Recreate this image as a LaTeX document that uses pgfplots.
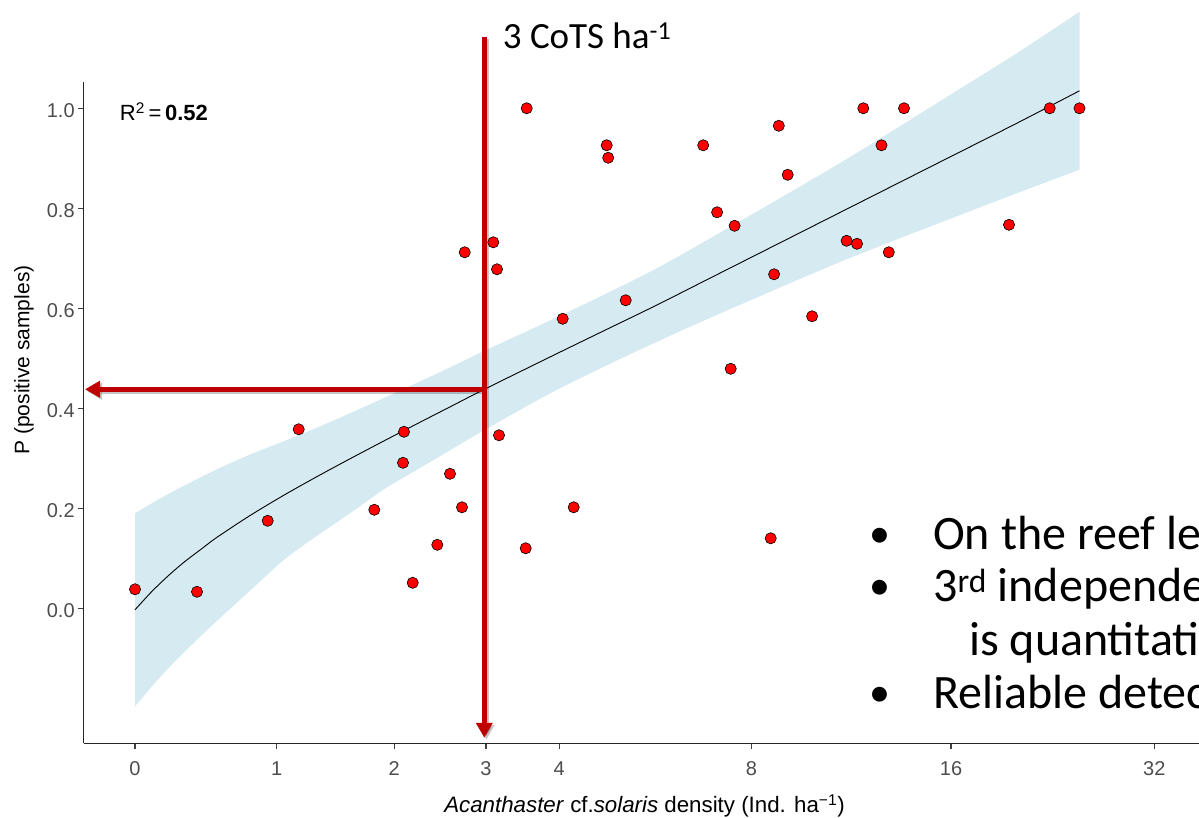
\documentclass[border=0pt]{standalone}
\usepackage{fontspec}
\setmainfont{Liberation Sans}
\newfontfamily\calibri{Carlito}
\usepackage{pgfplots}
\usepackage{pgfplotstable}
\pgfplotsset{compat=1.18}
\usepgfplotslibrary{fillbetween}
\usetikzlibrary{arrows.meta}
\definecolor{bandblue}{RGB}{214,234,241}
\definecolor{arrowred}{RGB}{192,0,0}
\definecolor{tickgray}{RGB}{77,77,77}

\pgfplotstableread{
x y
135 0.038
197 0.033
267.7 0.175
298.7 0.358
374.3 0.197
403 0.291
404 0.353
412.7 0.051
437.3 0.127
450 0.269
462 0.202
464.7 0.712
493.3 0.732
497 0.678
499 0.346
525.7 0.12
526.7 1.0
562.7 0.579
573.7 0.202
606.7 0.926
608.2 0.901
625.7 0.616
703.2 0.926
717.1 0.792
730.7 0.479
734.6 0.765
770.7 0.14
774.1 0.668
778.8 0.965
787.7 0.867
812.1 0.584
846.6 0.735
857 0.729
863.3 1.0
881.5 0.926
888.8 0.712
904 1.0
1009 0.767
1049.7 1.0
1079.5 1.0
}\ptsdata

\pgfplotstableread{
x y
135 -0.003
150 0.0298
160 0.0496
170 0.0682
184 0.0922
200 0.1165
217 0.1420
250 0.1855
284 0.2263
317 0.2634
350 0.2990
384 0.3348
417 0.3690
450 0.4028
484 0.4376
550 0.5026
604 0.5552
655 0.6047
706 0.6562
784 0.7350
840 0.7916
900 0.8522
950 0.9027
1016.7 0.9700
1079.5 1.035
}\fitdata

\pgfplotstableread{
x y
135 0.190
160 0.2196
184 0.2452
217 0.278
250 0.3075
284 0.3343
317 0.3614
350 0.390
384 0.4208
417 0.451
450 0.4818
484 0.5146
550 0.5756
604 0.6272
655 0.6782
706 0.7352
784 0.825
840 0.8906
900 0.9642
950 1.0267
1016.7 1.110
1079.5 1.193
}\bandhidata

\pgfplotstableread{
x y
135 -0.196
160 -0.138
184 -0.088
217 -0.025
250 0.035
284 0.097
317 0.145
350 0.19
384 0.238
417 0.277
450 0.316
484 0.356
550 0.4296
604 0.4832
655 0.5312
706 0.5772
784 0.645
840 0.6926
900 0.7402
950 0.7787
1016.7 0.830
1079.5 0.877
}\bandlodata

\begin{document}
\begin{tikzpicture}[x=1pt,y=1pt]
\begin{axis}[
  at={(83.7pt,74.7pt)}, anchor=south west,
  scale only axis, width=1115.3pt, height=661pt,
  xmin=83.7, xmax=1199, ymin=-0.27, ymax=1.052,
  axis x line=bottom, axis y line=left,
  axis line style={-, black!85, line width=1.1pt},
  xtick={135,276.7,394.3,486,559.3,751.5,951,1154.3},
  xticklabels={0,1,2,3,4,8,16,32},
  ytick={0,0.2,0.4,0.6,0.8,1.0},
  yticklabels={0.0,0.2,0.4,0.6,0.8,1.0},
  tick align=outside, major tick length=5.5pt,
  tick style={black!75, line width=1.1pt},
  ticklabel style={font=\fontsize{20}{20}\selectfont, text=tickgray},
  xticklabel style={yshift=-9pt},
  yticklabel style={yshift=-2pt},
  clip=false,
]
\addplot[name path=up, draw=none, smooth] table[x=x,y=y] {\bandhidata};
\addplot[name path=lo, draw=none, smooth] table[x=x,y=y] {\bandlodata};
\addplot[fill=bandblue, draw=none] fill between[of=up and lo];
\addplot[black, line width=0.9pt, smooth] table[x=x,y=y] {\fitdata};
\addplot[only marks, mark=*, mark size=5.6pt, mark options={fill=red, draw=black, line width=0.6pt}] table[x=x,y=y] {\ptsdata};

\draw[black, opacity=0.22, line width=5pt, xshift=2pt, yshift=-2pt, -{Triangle[width=16pt,length=15pt]}] (axis cs:484.3,1.142) -- (axis cs:484.3,-0.259);
\draw[black, opacity=0.22, line width=5pt, xshift=2pt, yshift=-2pt, -{Triangle[width=16pt,length=15pt]}] (axis cs:484.3,0.438) -- (axis cs:85,0.438);
\draw[arrowred, line width=5pt, -{Triangle[width=16pt,length=15pt]}] (axis cs:484.3,1.142) -- (axis cs:484.3,-0.259);
\draw[arrowred, line width=5pt, -{Triangle[width=16pt,length=15pt]}] (axis cs:484.3,0.438) -- (axis cs:85,0.438);
\end{axis}

\node[anchor=base west, inner sep=0, font=\fontsize{22}{22}\selectfont] at (119.7,697.3) {R\textsuperscript{2}\,=\,\textbf{0.52}};
\node[rotate=90, anchor=base, inner sep=0, font=\fontsize{21}{21}\selectfont] at (29.3,458) {P (positive samples)};
\node[anchor=base, inner sep=0, font=\fontsize{22.3}{22}\selectfont] at (644.5,5.3) {\textit{Acanthaster} cf.\textit{solaris} density (Ind. ha\textsuperscript{−1})};

\node[anchor=base west, inner sep=0, font=\calibri\fontsize{37}{37}\selectfont] at (502.7,769.7) {3 CoTS ha\textsuperscript{-1}};

\begin{scope}[font=\calibri\fontsize{48}{48}\selectfont]
\clip (0,0) rectangle (1199,818);
\node[anchor=base, inner sep=0, font=\calibri\fontsize{42}{42}\selectfont] at (879.5,270) {\textbullet};
\node[anchor=base west, inner sep=0] at (933,268) {On the reef level};
\node[anchor=base, inner sep=0, font=\calibri\fontsize{42}{42}\selectfont] at (879.5,218.3) {\textbullet};
\node[anchor=base west, inner sep=0] at (933,216.3) {3\textsuperscript{rd} independent};
\node[anchor=base west, inner sep=0] at (969,162.3) {is quantitative};
\node[anchor=base, inner sep=0, font=\calibri\fontsize{42}{42}\selectfont] at (879.5,111.3) {\textbullet};
\node[anchor=base west, inner sep=0] at (933,109.3) {Reliable detection};
\end{scope}
\pgfresetboundingbox
\path[use as bounding box] (0,0) rectangle (1199,818);
\end{tikzpicture}
\end{document}
